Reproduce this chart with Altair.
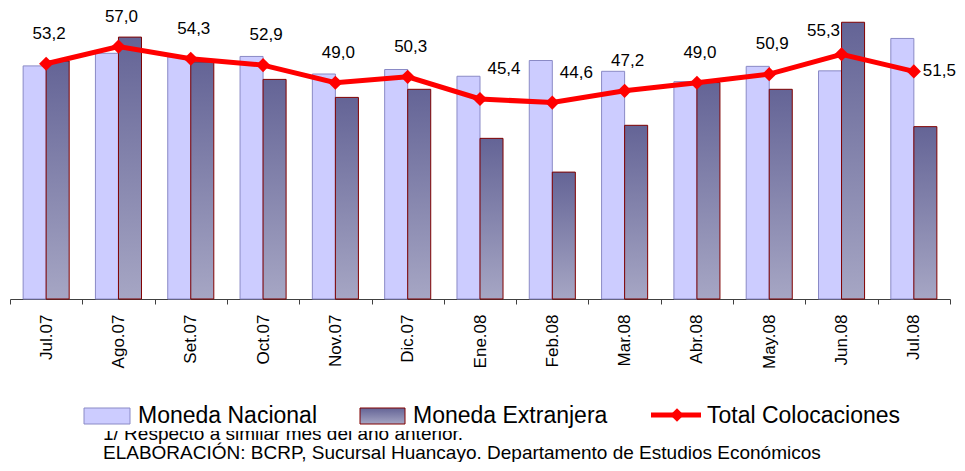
import altair as alt
import pandas as pd

months = ["Jul.07", "Ago.07", "Set.07", "Oct.07", "Nov.07", "Dic.07", "Ene.08",
          "Feb.08", "Mar.08", "Abr.08", "May.08", "Jun.08", "Jul.08"]
moneda_nacional = [51.8, 54.6, 53.8, 53.9, 50.0, 51.0, 49.5, 53.0, 50.6, 48.3, 51.7, 50.7, 57.9]
moneda_extranjera = [52.9, 58.2, 52.7, 48.8, 44.8, 46.6, 35.7, 28.2, 38.6, 48.1, 46.6, 61.5, 38.3]
total_colocaciones = [53.2, 57.0, 54.3, 52.9, 49.0, 50.3, 45.4, 44.6, 47.2, 49.0, 50.9, 55.3, 51.5]
series = ["Moneda Nacional", "Moneda Extranjera", "Total Colocaciones"]
footnotes = ["1/  Respecto a similar mes del año anterior.",
             "ELABORACIÓN: BCRP, Sucursal Huancayo. Departamento de Estudios Económicos"]

FONT = "Liberation Sans"

df_bars = pd.DataFrame({
    "mes": months * 2,
    "serie": [series[0]] * len(months) + [series[1]] * len(months),
    "valor": moneda_nacional + moneda_extranjera,
})
df_tot = pd.DataFrame({"mes": months, "total": total_colocaciones})
df_tot["etiqueta"] = [f"{v:.1f}".replace(".", ",") for v in total_colocaciones]

W, H = 940, 289
bar_scale = alt.Scale(domain=[0, H / 4.5], nice=False, zero=False)
line_lo = 5 / 4.516
line_scale = alt.Scale(domain=[line_lo, line_lo + H / 4.516], nice=False, zero=False)

x_axis = alt.Axis(title=None, labelAngle=-90, labelFont=FONT, labelFontSize=17,
                  labelColor="#000000", labelPadding=10, tickSize=5, tickBand="extent",
                  domainColor="#404040", tickColor="#404040", grid=False)
x_enc = alt.X("mes:N", sort=months,
              scale=alt.Scale(domain=months, paddingInner=0, paddingOuter=0),
              axis=x_axis)
xoff = alt.XOffset("serie:N", scale=alt.Scale(domain=series[:2], paddingInner=0, paddingOuter=0.57))

me_grad = alt.Gradient(gradient="linear",
                       stops=[alt.GradientStop(color="#646496", offset=0),
                              alt.GradientStop(color="#A6A6C4", offset=1)],
                       x1=0, x2=0, y1=0, y2=1)

bars_mn = alt.Chart(df_bars).transform_filter(
    alt.datum.serie == series[0]
).mark_bar(fill="#CCCCFF", stroke="#8A8AC6", strokeWidth=1).encode(
    x=x_enc, xOffset=xoff, y=alt.Y("valor:Q", scale=bar_scale, axis=None))

bars_me = alt.Chart(df_bars).transform_filter(
    alt.datum.serie == series[1]
).mark_bar(fill=me_grad, stroke="#800000", strokeWidth=1).encode(
    x=x_enc, xOffset=xoff, y=alt.Y("valor:Q", scale=bar_scale, axis=None))

line = alt.Chart(df_tot).mark_line(color="#FF0000", strokeWidth=5).encode(
    x=x_enc, y=alt.Y("total:Q", scale=line_scale, axis=None))

points = alt.Chart(df_tot).mark_point(shape="diamond", filled=True, size=200,
                                      color="#FF0000", opacity=1).encode(
    x=x_enc, y=alt.Y("total:Q", scale=line_scale, axis=None))


def labels(sel, dx, dy, align="center"):
    return alt.Chart(df_tot).transform_filter(
        alt.FieldOneOfPredicate(field="mes", oneOf=sel)
    ).mark_text(font=FONT, fontSize=17, color="#000000", baseline="middle",
                align=align, dx=dx, dy=dy).encode(
        x=x_enc, y=alt.Y("total:Q", scale=line_scale, axis=None), text="etiqueta:N")


lab_default = labels(["Jul.07", "Ago.07", "Set.07", "Oct.07", "Nov.07", "Dic.07",
                      "Mar.08", "Abr.08", "May.08"], 3, -30)
lab_right = labels(["Ene.08", "Feb.08"], 24, -30)
lab_jun = labels(["Jun.08"], -18, -23)
lab_last = labels(["Jul.08"], 9, 0, align="left")

df_leg = pd.DataFrame({"t": series})
df_fn = pd.DataFrame({"t": footnotes})

fn1 = alt.Chart(df_fn).transform_filter(alt.datum.t == footnotes[0]).mark_text(
    font=FONT, fontSize=19, align="left", baseline="alphabetic", color="#000000").encode(
    x=alt.value(93), y=alt.value(430), text="t:N")
fn2 = alt.Chart(df_fn).transform_filter(alt.datum.t == footnotes[1]).mark_text(
    font=FONT, fontSize=19, align="left", baseline="alphabetic", color="#000000").encode(
    x=alt.value(93), y=alt.value(449), text="t:N")
cover = alt.Chart(df_fn).transform_filter(alt.datum.t == footnotes[0]).mark_rect(
    color="#FFFFFF").encode(x=alt.value(88), x2=alt.value(780), y=alt.value(414), y2=alt.value(421))

leg_mn_box = alt.Chart(df_leg).transform_filter(alt.datum.t == series[0]).mark_rect(
    fill="#CCCCFF", stroke="#8A8AC6", strokeWidth=1).encode(
    x=alt.value(74), x2=alt.value(120), y=alt.value(398), y2=alt.value(414))
leg_me_box = alt.Chart(df_leg).transform_filter(alt.datum.t == series[1]).mark_rect(
    fill=me_grad, stroke="#800000", strokeWidth=1).encode(
    x=alt.value(350), x2=alt.value(395), y=alt.value(398), y2=alt.value(414))
leg_line = alt.Chart(df_leg).transform_filter(alt.datum.t == series[2]).mark_rule(
    color="#FF0000", strokeWidth=5).encode(
    x=alt.value(641), x2=alt.value(691), y=alt.value(405))
leg_pt = alt.Chart(df_leg).transform_filter(alt.datum.t == series[2]).mark_point(
    shape="diamond", filled=True, size=180, color="#FF0000", opacity=1).encode(
    x=alt.value(667), y=alt.value(405))


def leg_text(name, xpos):
    return alt.Chart(df_leg).transform_filter(alt.datum.t == name).mark_text(
        font=FONT, fontSize=23, align="left", baseline="middle", color="#000000").encode(
        x=alt.value(xpos), y=alt.value(406), text="t:N")


chart = alt.layer(
    bars_mn, bars_me, line, points, lab_default, lab_right, lab_jun, lab_last,
    fn1, fn2, cover, leg_mn_box, leg_me_box, leg_line, leg_pt,
    leg_text(series[0], 128), leg_text(series[1], 403), leg_text(series[2], 697),
).resolve_scale(y="independent").properties(
    width=W, height=H,
    autosize=alt.AutoSizeParams(type="none"),
    padding={"left": 2, "top": 2, "right": 6, "bottom": 163},
    background="#FFFFFF",
).configure_view(stroke=None)

chart.save("out.html", embed_options={"renderer": "svg", "actions": False})
